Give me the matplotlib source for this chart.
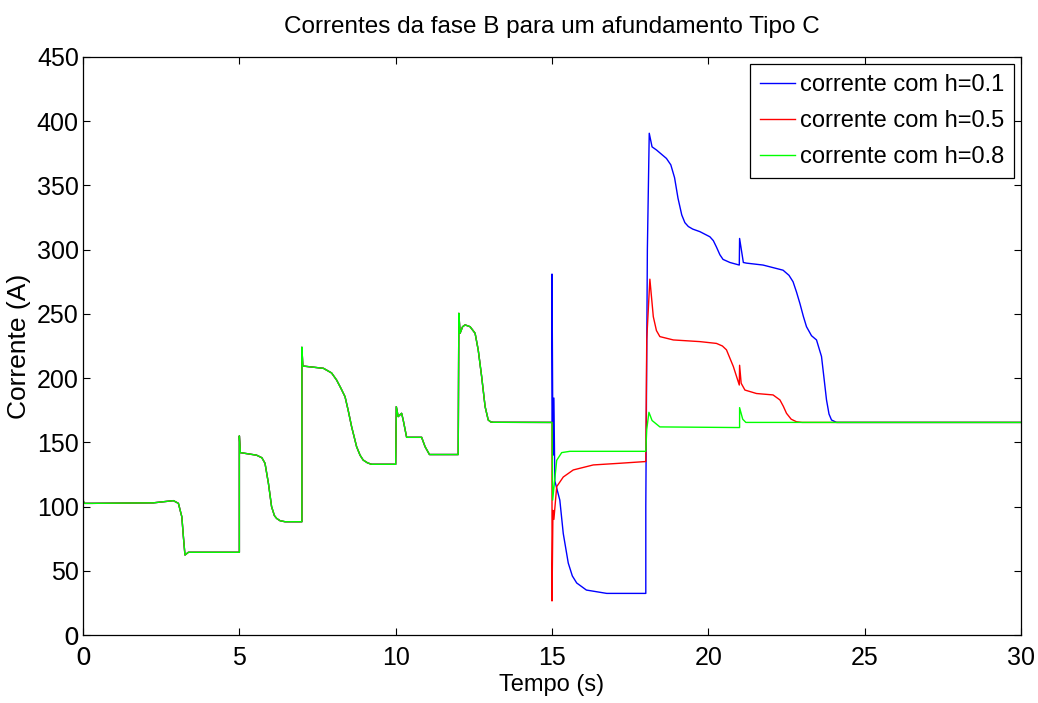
import matplotlib
matplotlib.use('Agg')
import matplotlib.pyplot as plt
import numpy as np

# common part of the three currents (identical up to t = 15 s)
t_common = [0.0, 0.0, 0.01, 0.05, 0.3, 2.25, 2.89, 3.05, 3.16, 3.21, 3.26, 3.37,
            5.0, 5.0, 5.03, 5.55, 5.72, 5.82, 5.93, 6.03, 6.12, 6.19, 6.3, 6.46,
            7.0, 7.0, 7.03, 7.69, 7.95, 8.11, 8.25, 8.38, 8.48, 8.59, 8.75, 8.86, 8.96, 9.1, 9.23,
            10.0, 10.02, 10.08, 10.19, 10.24, 10.35, 10.83, 10.94, 11.08,
            12.0, 12.02, 12.06, 12.14, 12.22, 12.38, 12.54, 12.64, 12.75, 12.86, 12.96, 13.04, 13.12,
            15.0]
i_common = [0.0, 116.8, 104.0, 102.5, 102.5, 102.9, 104.6, 102.5, 92.0, 76.5, 62.3, 64.4,
            64.4, 155.0, 142.0, 140.0, 138.0, 133.7, 118.0, 100.0, 93.0, 90.8, 89.0, 88.2,
            88.2, 224.0, 209.4, 207.6, 204.0, 198.5, 192.0, 185.5, 175.0, 162.2, 146.6, 140.0, 136.2, 134.0, 132.9,
            132.9, 177.8, 170.0, 172.6, 167.4, 153.9, 153.9, 146.6, 140.5,
            140.5, 250.4, 234.9, 240.0, 241.4, 240.0, 234.9, 221.9, 201.1, 177.8, 167.4, 165.9, 165.6,
            165.5]

# h = 0.1
t_h01 = [15.0, 15.03, 15.06, 15.09, 15.25, 15.36, 15.52, 15.65, 15.79, 16.1, 16.75, 18.0,
         18.0, 18.05, 18.11, 18.2, 18.34, 18.66, 18.8, 18.92, 19.03, 19.15, 19.25, 19.36, 19.5,
         19.73, 20.05, 20.16, 20.26, 20.37, 20.47, 20.69, 20.99, 21.0, 21.12, 21.22, 21.75,
         22.39, 22.58, 22.71, 22.82, 22.93, 23.04, 23.14, 23.3, 23.46, 23.62, 23.7, 23.78,
         23.86, 23.94, 24.1, 30.0]
i_h01 = [281.0, 140.0, 184.5, 120.0, 105.0, 79.0, 56.0, 46.0, 40.5, 35.0, 32.4, 32.4,
         100.0, 300.0, 390.6, 380.0, 377.6, 371.0, 366.0, 356.0, 340.0, 327.0, 321.0, 318.0, 316.0,
         314.0, 310.0, 307.0, 302.0, 296.0, 292.4, 290.0, 288.0, 308.7, 290.0, 289.5, 288.0,
         284.0, 280.0, 275.0, 267.0, 258.0, 248.0, 240.0, 233.0, 229.7, 216.8, 200.0, 183.0,
         172.0, 167.4, 165.5, 165.5]

# h = 0.5
t_h05 = [15.0, 15.03, 15.06, 15.15, 15.36, 15.68, 16.32, 17.17, 17.97, 18.0,
         18.03, 18.13, 18.24, 18.34, 18.45, 18.88, 19.73, 20.26, 20.45, 20.58, 20.8, 20.99,
         21.0, 21.05, 21.17, 21.54, 22.07, 22.29, 22.4, 22.5, 22.65, 22.82, 23.0, 30.0]
i_h05 = [26.5, 97.0, 90.0, 115.5, 123.0, 128.5, 132.4, 133.7, 135.0, 135.0,
         230.0, 277.0, 247.8, 237.0, 232.3, 229.7, 228.4, 227.0, 225.0, 222.0, 209.0, 194.6,
         210.0, 196.0, 190.7, 188.0, 186.9, 183.0, 178.0, 172.6, 168.0, 166.0, 165.5, 165.5]

# h = 0.8
t_h08 = [15.0, 15.02, 15.15, 15.31, 15.57, 18.0, 18.03, 18.1, 18.2, 18.45,
         21.0, 21.0, 21.1, 21.2, 30.0]
i_h08 = [165.5, 105.0, 136.0, 142.0, 143.0, 143.0, 160.0, 173.4, 167.0, 162.0,
         161.5, 177.0, 168.0, 165.5, 165.5]

labels = ['corrente com h=0.1', 'corrente com h=0.5', 'corrente com h=0.8']
colors = ['#0000ff', '#ff0000', '#00ff00']

plt.rcParams['font.family'] = ['Liberation Sans', 'DejaVu Sans']

fig = plt.figure(figsize=(10.38, 7.03), dpi=100)
ax = fig.add_axes([0.080, 0.0967, 0.9036, 0.8223])

series = [(t_h01, i_h01), (t_h05, i_h05), (t_h08, i_h08)]
for (t, i), lab, c in zip(series, labels, colors):
    ax.plot(t_common + t, i_common + i, color=c, lw=1.0, label=lab)

ax.set_xlim(0, 30)
ax.set_ylim(0, 450)
ax.set_xticks(np.arange(0, 31, 5))
ax.set_yticks(np.arange(0, 451, 50))
ax.tick_params(direction='in', length=5, width=0.8, top=True, right=True,
               labelsize=18)
ax.tick_params(axis='x', pad=8)
ax.tick_params(axis='y', pad=3)
for sp in ax.spines.values():
    sp.set_linewidth(0.9)

# the zero labels come out in a different face
for lbl in [ax.get_xticklabels()[0], ax.get_yticklabels()[0]]:
    lbl.set_family('DejaVu Sans')

ax.set_title('Correntes da fase B para um afundamento Tipo C', fontsize=17.5, pad=17)
ax.set_xlabel('Tempo (s)', fontsize=17, labelpad=3)
ax.set_ylabel('Corrente (A)', fontsize=19, labelpad=4)

leg = ax.legend(loc='upper right', fontsize=17, frameon=True, fancybox=False,
                edgecolor='black', framealpha=1, handlelength=1.5,
                handletextpad=0.2, borderpad=0.42, labelspacing=0.6,
                borderaxespad=0.3)
leg.get_frame().set_linewidth(0.9)

fig.savefig('out.png', dpi=100)
